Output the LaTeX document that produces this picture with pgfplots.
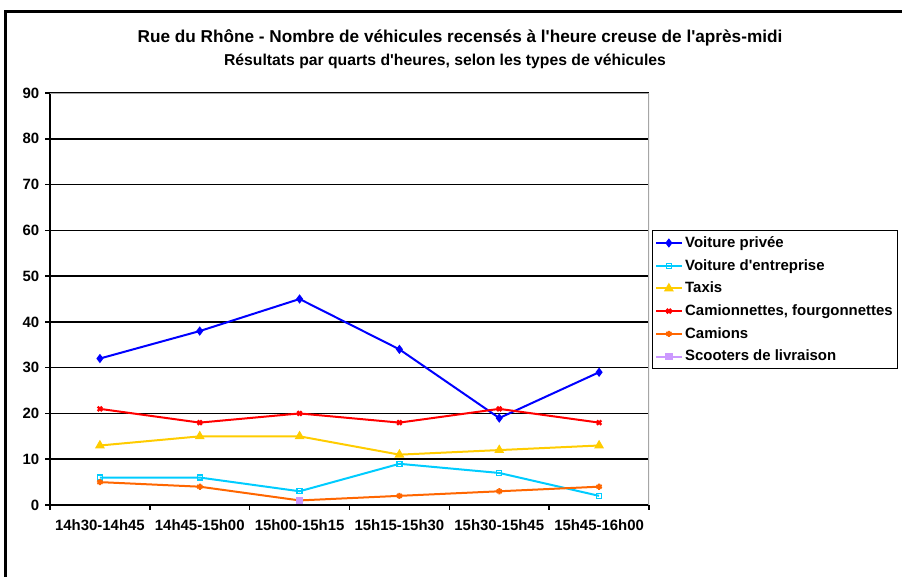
\documentclass[border=0pt]{standalone}
\usepackage{pgfplots}
\pgfplotsset{compat=1.18}
\usepackage{fontspec}
\setmainfont{Liberation Sans}
\definecolor{cPriv}{RGB}{0,0,255}
\definecolor{cEnt}{RGB}{0,204,255}
\definecolor{cTaxi}{RGB}{255,204,0}
\definecolor{cCam}{RGB}{255,0,0}
\definecolor{cCamion}{RGB}{255,102,0}
\definecolor{cScoot}{RGB}{204,153,255}
\begin{document}
\begin{tikzpicture}
\useasboundingbox (0,0) rectangle (676.5pt,432pt);
\draw[line width=1.9pt] (4pt,-5pt) -- (4pt,423.5pt) -- (690pt,423.5pt);
\node[font=\bfseries\fontsize{12.9}{15}\selectfont] at (345pt,403.5pt) {Rue du Rhône - Nombre de véhicules recensés à l\textquotesingle heure creuse de l\textquotesingle après-midi};
\node[font=\bfseries\fontsize{11.8}{14}\selectfont] at (333.75pt,386.25pt) {Résultats par quarts d\textquotesingle heures, selon les types de véhicules};
\begin{axis}[
  at={(37.5pt,53.25pt)}, anchor=south west,
  scale only axis, width=449.25pt, height=309pt,
  xmin=-0.5, xmax=5.5, ymin=0, ymax=90,
  axis x line*=bottom, axis y line*=left,
  axis line style={black, line width=1.2pt},
  xtick={0,...,5},
  xticklabels={14h30-14h45,14h45-15h00,15h00-15h15,15h15-15h30,15h30-15h45,15h45-16h00},
  major x tick style={draw=none},
  minor xtick={-0.5,0.5,...,5.5},
  minor x tick style={black, line width=1.2pt},
  minor tick length=3.5pt,
  ytick={0,10,...,90},
  major tick length=3.5pt,
  y tick style={black, line width=1.2pt},
  tick align=outside,
  ymajorgrids,
  grid style={black, line width=1.1pt},
  /pgf/number format/assume math mode=true,
  tick label style={font=\bfseries\fontsize{11.2}{13}\selectfont},
  xticklabel style={yshift=-4pt},
  yticklabel style={xshift=-1pt},
  legend style={at={(1.005,0.6675)}, anchor=north west, draw=black, line width=0.8pt,
    font=\bfseries\fontsize{11.2}{13}\selectfont, row sep=3.4pt, inner xsep=2pt, inner ysep=2.5pt,
    cells={anchor=west}},
  legend image code/.code={\draw[mark repeat=2,mark phase=2] plot coordinates {(0pt,0pt)(9.5pt,0pt)(19pt,0pt)};},
  every axis plot/.append style={line width=1.5pt, mark size=2.3pt},
]
\addplot[cPriv, mark=diamond*, mark options={solid, fill=cPriv}] coordinates {(0,32)(1,38)(2,45)(3,34)(4,19)(5,29)};
\addlegendentry{Voiture privée}
\addplot[cEnt, mark=square, mark options={solid, line width=1pt, mark size=1.9pt}] coordinates {(0,6)(1,6)(2,3)(3,9)(4,7)(5,2)};
\addlegendentry{Voiture d\textquotesingle entreprise}
\addplot[cTaxi, mark=triangle*, mark options={solid, fill=cTaxi, mark size=2.8pt}] coordinates {(0,13)(1,15)(2,15)(3,11)(4,12)(5,13)};
\addlegendentry{Taxis}
\addplot[cCam, mark=x, mark options={solid, line width=1.8pt}] coordinates {(0,21)(1,18)(2,20)(3,18)(4,21)(5,18)};
\addlegendentry{Camionnettes, fourgonnettes}
\addplot[cCamion, mark=asterisk, mark options={solid, line width=1.5pt}] coordinates {(0,5)(1,4)(2,1)(3,2)(4,3)(5,4)};
\addlegendentry{Camions}
\addplot[cScoot, mark=square*, mark options={solid, fill=cScoot, mark size=2pt}] coordinates {(2,1)};
\addlegendentry{Scooters de livraison}
\draw[gray!70, line width=1.2pt] (rel axis cs:0,1) -- (rel axis cs:1,1) -- (rel axis cs:1,0);
\end{axis}
\end{tikzpicture}
\end{document}
